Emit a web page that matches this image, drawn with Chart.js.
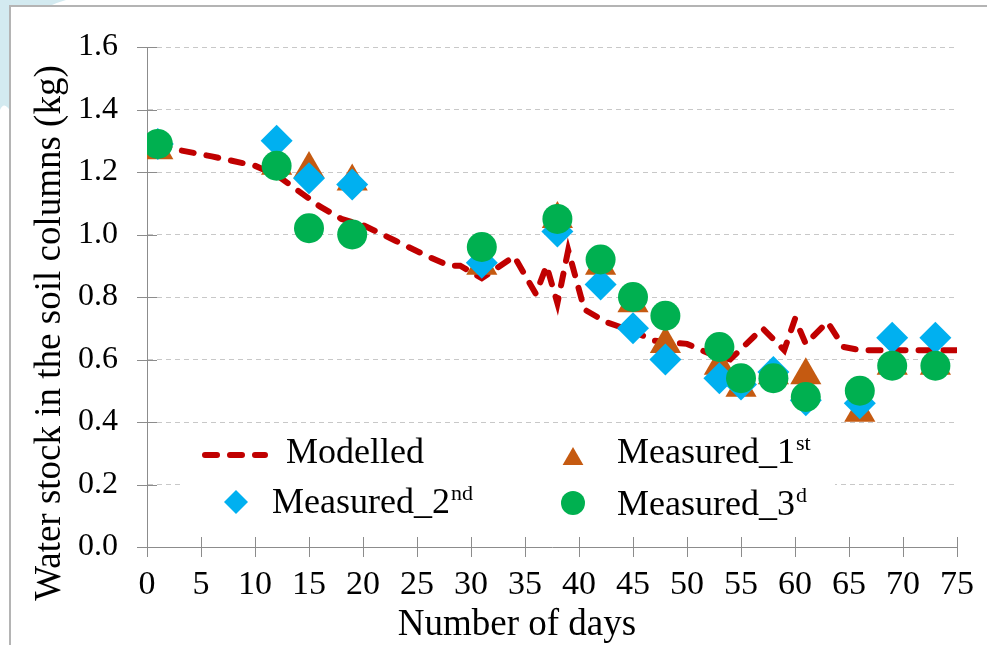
<!DOCTYPE html>
<html>
<head>
<meta charset="utf-8">
<script src="https://cdn.jsdelivr.net/npm/chart.js@4/dist/chart.umd.min.js"></script>
<style>
    body { margin: 0; background: #fff; }
    canvas { display: block; }
</style>
</head>
<body>
<canvas id="waterChart" width="987" height="645"></canvas>
<script>
// Modelled curve
const modelDays = [1, 3, 6, 10, 12, 14, 16, 18, 20, 23, 26, 28, 29, 31, 34, 36, 37, 38, 39, 40.5, 42.5, 45, 47, 50, 52, 54, 57, 59, 60, 61, 63, 64.5, 66, 75];
const modelValues = [1.29, 1.27, 1.25, 1.22, 1.19, 1.14, 1.09, 1.05, 1.03, 0.98, 0.93, 0.90, 0.90, 0.86, 0.93, 0.81, 0.90, 0.78, 0.95, 0.76, 0.72, 0.69, 0.66, 0.65, 0.62, 0.60, 0.70, 0.63, 0.73, 0.65, 0.72, 0.64, 0.63, 0.63];

// Measurements
const measuredDays = [1, 12, 15, 19, 31, 38, 42, 45, 48, 53, 55, 58, 61, 66, 69, 73];
const measured1 = [1.27, 1.22, 1.21, 1.17, 0.90, 1.05, 0.90, 0.78, 0.65, 0.58, 0.51, 0.55, 0.55, 0.43, 0.58, 0.58];
const measured2 = [1.29, 1.30, 1.18, 1.16, 0.91, 1.01, 0.84, 0.70, 0.60, 0.54, 0.52, 0.56, 0.47, 0.46, 0.67, 0.67];
const measured3 = [1.29, 1.22, 1.02, 1.00, 0.96, 1.05, 0.92, 0.80, 0.74, 0.64, 0.54, 0.54, 0.48, 0.50, 0.58, 0.58];

const xTicks = { min: 0, max: 75, step: 5 };
const yTicks = { min: 0, max: 1.6, step: 0.2 };

const SERIF = '"Liberation Serif", "Times New Roman", serif';
const RED = '#c00000';
const ORANGE = '#c55a11';
const BLUE = '#00b0f0';
const GREEN = '#00b050';

function toPoints(xs, ys) {
    return xs.map((x, i) => ({ x: x, y: ys[i] }));
}

// page frame behind the chart
const framePlugin = {
    id: 'frame',
    beforeDraw(chart) {
        const ctx = chart.ctx;
        ctx.save();
        ctx.fillStyle = '#fff';
        ctx.fillRect(0, 0, chart.width, chart.height);
        // light blue corner shape
        ctx.fillStyle = '#d3eaf0';
        ctx.beginPath();
        ctx.moveTo(0, 0);
        ctx.lineTo(66, 0);
        ctx.quadraticCurveTo(30, 10, 11, 40);
        ctx.lineTo(11, 112);
        ctx.quadraticCurveTo(4, 100, 0, 110);
        ctx.closePath();
        ctx.fill();
        ctx.fillStyle = '#fff';
        ctx.fillRect(11, 7, chart.width, chart.height);
        ctx.strokeStyle = '#b4b4b4';
        ctx.lineWidth = 2;
        ctx.beginPath();
        ctx.moveTo(10, chart.height);
        ctx.lineTo(10, 6);
        ctx.lineTo(chart.width, 6);
        ctx.stroke();
        ctx.restore();
    }
};

// tick marks crossing both axes, plus the two axis titles
const axesPlugin = {
    id: 'axesExtras',
    beforeDatasetsDraw(chart) {
        const ctx = chart.ctx;
        const xs = chart.scales.x;
        const ys = chart.scales.y;
        ctx.save();
        ctx.strokeStyle = '#8c8c8c';
        ctx.lineWidth = 1;
        ctx.beginPath();
        xs.ticks.forEach(t => {
            const px = Math.round(xs.getPixelForValue(t.value)) + 0.5;
            ctx.moveTo(px, ys.bottom - 10);
            ctx.lineTo(px, ys.bottom + 10);
        });
        ys.ticks.forEach(t => {
            const py = Math.round(ys.getPixelForValue(t.value)) + 0.5;
            ctx.moveTo(xs.left - 10, py);
            ctx.lineTo(xs.left + 10, py);
        });
        ctx.stroke();
        ctx.restore();
    },
    afterDraw(chart) {
        const ctx = chart.ctx;
        ctx.save();
        ctx.font = '37px ' + SERIF;
        ctx.fillStyle = '#000';
        ctx.textAlign = 'center';
        ctx.textBaseline = 'middle';
        ctx.fillText('Number of days', 517, 625);
        ctx.translate(50, 333);
        ctx.rotate(-Math.PI / 2);
        ctx.fillText('Water stock in the soil columns (kg)', 0, 0);
        ctx.restore();
    }
};

function drawMarker(ctx, style, color, x, y, r) {
    ctx.fillStyle = color;
    ctx.beginPath();
    if (style === 'circle') {
        ctx.arc(x, y, r, 0, Math.PI * 2);
    } else if (style === 'rectRot') {
        ctx.moveTo(x, y - r);
        ctx.lineTo(x + r, y);
        ctx.lineTo(x, y + r);
        ctx.lineTo(x - r, y);
    } else {
        ctx.moveTo(x, y - r);
        ctx.lineTo(x + r * 0.866, y + r * 0.5);
        ctx.lineTo(x - r * 0.866, y + r * 0.5);
    }
    ctx.closePath();
    ctx.fill();
}

function drawLabel(ctx, main, sup, x, y) {
    ctx.font = '36px ' + SERIF;
    ctx.textAlign = 'left';
    ctx.textBaseline = 'alphabetic';
    ctx.fillStyle = '#000';
    ctx.fillText(main, x, y);
    if (sup) {
        const w = ctx.measureText(main).width;
        ctx.font = '22px ' + SERIF;
        ctx.fillText(sup, x + w + 1, y - 13);
    }
}

// legend box inside the plot
const legendPlugin = {
    id: 'innerLegend',
    afterDatasetsDraw(chart) {
        const ctx = chart.ctx;
        ctx.save();
        ctx.fillStyle = '#fff';
        ctx.fillRect(180, 427, 655, 102);

        ctx.strokeStyle = RED;
        ctx.lineWidth = 6;
        ctx.lineCap = 'round';
        ctx.setLineDash([12, 13]);
        ctx.beginPath();
        ctx.moveTo(205, 455);
        ctx.lineTo(265, 455);
        ctx.stroke();
        ctx.setLineDash([]);
        drawLabel(ctx, 'Modelled', '', 286, 463);

        drawMarker(ctx, 'triangle', ORANGE, 573, 459, 12);
        drawLabel(ctx, 'Measured_1', 'st', 617, 463);

        drawMarker(ctx, 'rectRot', BLUE, 236, 502, 12);
        drawLabel(ctx, 'Measured_2', 'nd', 272, 513);

        drawMarker(ctx, 'circle', GREEN, 573, 503, 12);
        drawLabel(ctx, 'Measured_3', 'd', 617, 515);
        ctx.restore();
    }
};

new Chart(document.getElementById('waterChart').getContext('2d'), {
    type: 'scatter',
    data: {
        datasets: [{
            label: 'Modelled',
            data: toPoints(modelDays, modelValues),
            showLine: true,
            borderColor: RED,
            borderWidth: 6,
            borderDash: [12, 13],
            borderCapStyle: 'round',
            pointRadius: 0,
            tension: 0,
            order: 4
        }, {
            label: 'Measured_1st',
            data: toPoints(measuredDays, measured1),
            pointStyle: 'triangle',
            pointRadius: 18,
            backgroundColor: ORANGE,
            borderWidth: 0,
            order: 3
        }, {
            label: 'Measured_2nd',
            data: toPoints(measuredDays, measured2),
            pointStyle: 'rectRot',
            pointRadius: 16,
            backgroundColor: BLUE,
            borderWidth: 0,
            order: 2
        }, {
            label: 'Measured_3d',
            data: toPoints(measuredDays, measured3),
            pointStyle: 'circle',
            pointRadius: 15,
            backgroundColor: GREEN,
            borderWidth: 0,
            order: 1
        }]
    },
    options: {
        responsive: false,
        animation: false,
        devicePixelRatio: 1,
        layout: { padding: { top: 47, right: 30, left: 0, bottom: 0 } },
        plugins: {
            legend: { display: false },
            tooltip: { enabled: false }
        },
        scales: {
            x: {
                type: 'linear',
                min: xTicks.min,
                max: xTicks.max,
                afterFit: s => { s.height = 98; s.paddingRight = 0; s.paddingLeft = 0; },
                grid: { display: false, drawTicks: false },
                border: { display: true, color: '#8c8c8c', width: 1 },
                ticks: {
                    stepSize: xTicks.step,
                    padding: 18,
                    color: '#000',
                    font: { family: SERIF, size: 34, lineHeight: 1.2 }
                }
            },
            y: {
                min: yTicks.min,
                max: yTicks.max,
                afterFit: s => { s.width = 147; s.paddingTop = 0; s.paddingBottom = 0; },
                grid: { color: '#c8c8c8', lineWidth: 1, drawTicks: false },
                border: { display: true, color: '#8c8c8c', width: 1, dash: [5, 4] },
                ticks: {
                    stepSize: yTicks.step,
                    padding: 29,
                    color: '#000',
                    font: { family: SERIF, size: 32 },
                    callback: v => Number(v).toFixed(1)
                }
            }
        }
    },
    plugins: [framePlugin, axesPlugin, legendPlugin]
});
</script>
</body>
</html>
